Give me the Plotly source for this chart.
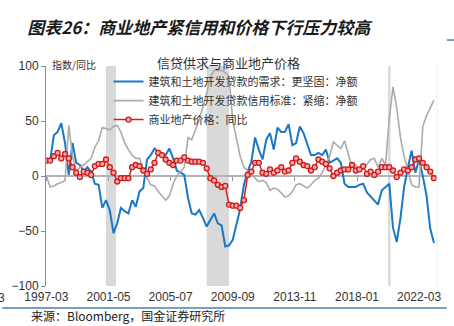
import pandas as pd
import plotly.graph_objects as go

# ---------------- data (quarterly, 1997Q1 .. 2023Q1) ----------------
start_month = "1997-03-01"

demand = [12, 14, 37, 40, 48, 30, 1, 30, 12, 10, 4, 8, 4, -7, -8, -29, -22, -31, -52, -43,
          -29, -32, -34, -22, -28, -14, -11, 15, 19, 25, 22, 20, 19, 25, 16, 5, 3, 1, -20, -34,
          -35, -31, -38, -46, -40, -34, -43, -45, -64, -63, -58, -45, -30, -8, 4, 13, 35, 24, 15, 33,
          39, 24, 44, 40, 40, 47, 28, 30, 45, 39, 29, 19, 19, 21, 19, 24, 12, 14, 16, 12,
          -7, -10, -10, -10, -8, -7, -15, -19, -22, -26, -13, -10, -7, -47, -60, -38, -10, 8, 23, 3,
          15, 0, -18, -48, -61]

standards = [0, -10, -9, -7, -6, -4, 46, 18, 4, 8, 10, 13, 16, 26, 32, 44, 43, 42, 45, 46,
             40, 30, 24, 19, 16, 16, 6, -2, -8, -9, -14, -18, -22, -18, -7, 0, 4, 8, 35, 33,
             42, 51, 63, 75, 90, 96, 96, 96, 94, 90, 50, 33, 18, 8, 5, 2, -2, -5, -4, -6,
             -13, -11, -12, -16, -19, -18, -14, -8, -7, -9, -11, -8, -4, -2, 3, 10, 18, 31, 28, 25,
             32, 19, 8, 10, 5, 6, 10, 15, 16, 8, 16, 10, 52, 81, 62, 35, 18, 5, -8, -10,
             -10, 45, 55, 62, 69]

price_yoy = [14, 14, 18, 21, 16, 20, 16, 8, 3, -1, 4, 3, 1, 9, 11, 11, 15, 8, 3, -5,
             -2, -2, -2, 8, 10, 9, 5, 2, 6, 12, 21, 19, 15, 12, 10, 14, 14, 17, 14, 13,
             13, 13, 12, 7, -2, -4, -8, -10, -9, -26, -27, -27, -29, -22, 1, 4, 12, 12, 3, 2,
             6, 3, 5, 8, 4, 5, 12, 16, 13, 10, 9, 5, 8, 15, 13, 11, 7, 0, 3, 5,
             6, 6, 10, 5, 6, 9, 2, 4, 1, 4, 8, 8, 8, 5, -1, 3, 6, 5, 8, 15,
             16, 12, 8, 4, -2]

names = ["建筑和土地开发贷款的需求：更坚固：净额",
         "建筑和土地开发贷款信用标准：紧缩：净额",
         "商业地产价格：同比"]

recessions = [("2001-03-01", "2001-11-01"), ("2007-12-01", "2009-06-01"), ("2020-02-01", "2020-04-01")]

tick_dates = ["1997-03-01", "2001-05-01", "2005-07-01", "2009-09-01",
              "2013-11-01", "2018-01-01", "2022-03-01"]
tick_text = ["1997-03", "2001-05", "2005-07", "2009-09", "2013-11", "2018-01", "2022-03"]
y_ticks = [-100, -50, 0, 50, 100]

dates = pd.date_range(start=start_month, periods=len(demand), freq="3MS")

# ---------------- figure ----------------
CJK = "Noto Sans CJK SC"
NUM = "Liberation Sans, Arial, sans-serif"
xrange_ = ["1997-02-20", "2023-05-15"]

fig = go.Figure()

for a, b in recessions:
    fig.add_vrect(x0=a, x1=b, fillcolor="#d9d9d9", opacity=1, line_width=0, layer="below")

fig.add_trace(go.Scatter(x=dates, y=demand, name=names[0], mode="lines",
                         line=dict(color="#1a78c8", width=2)))
fig.add_trace(go.Scatter(x=dates, y=standards, name=names[1], mode="lines",
                         line=dict(color="#ababab", width=1.6)))
fig.add_trace(go.Scatter(x=dates, y=price_yoy, name=names[2], mode="lines+markers",
                         line=dict(color="#d42020", width=1.5),
                         marker=dict(symbol="circle", size=5, color="#f0a8a8",
                                     line=dict(color="#d01818", width=1.3))))
# dummy trace for the tick axis on the zero line
fig.add_trace(go.Scatter(x=[], y=[], xaxis="x2", showlegend=False, hoverinfo="skip"))

fig.update_layout(
    width=454, height=326,
    margin=dict(l=44, r=17, t=66, b=40),
    paper_bgcolor="white", plot_bgcolor="white",
    showlegend=True,
    title=dict(text="图表26：商业地产紧信用和价格下行压力较高",
               font=dict(family=CJK, size=17, color="#1a1a1a", weight="bold", style="italic"),
               x=0.06, xanchor="left", xref="container",
               y=1 - 28 / 326, yanchor="middle", yref="container"),
    legend=dict(x=0.16, y=0.995, xanchor="left", yanchor="top",
                bgcolor="rgba(0,0,0,0)", font=dict(family=CJK, size=11, color="#333333"),
                tracegroupgap=0, itemwidth=30),
    xaxis=dict(type="date", range=xrange_, tickvals=tick_dates, ticktext=tick_text,
               showgrid=False, zeroline=False, showline=False, ticks="",
               ticklabelstandoff=2,
               tickfont=dict(family=NUM, size=12, color="#333333")),
    xaxis2=dict(type="date", range=xrange_, tickvals=tick_dates, overlaying="x",
                anchor="free", position=0.5, side="bottom", showticklabels=False,
                ticks="outside", ticklen=4, tickcolor="#999999", tickwidth=1,
                showgrid=False, zeroline=False, showline=False),
    yaxis=dict(range=[-100, 100], tickvals=y_ticks, showgrid=False,
               zeroline=True, zerolinecolor="#b3b3b3", zerolinewidth=2,
               showline=True, linecolor="#8c8c8c", linewidth=1,
               ticks="outside", ticklen=4, tickcolor="#8c8c8c",
               tickfont=dict(family=NUM, size=12, color="#333333")),
)

fig.add_annotation(text="信贷供求与商业地产价格", xref="paper", yref="paper",
                   x=0.466, y=1.014, xanchor="center", yanchor="middle", showarrow=False,
                   font=dict(family=CJK, size=13, color="#333333"))
fig.add_annotation(text="指数/同比", xref="paper", yref="paper",
                   x=0.01, y=1.005, xanchor="left", yanchor="middle", showarrow=False,
                   font=dict(family=CJK, size=10, color="#333333"))
fig.add_annotation(text="3", xref="paper", yref="paper",
                   x=-0.1, y=-0.055, xanchor="right", yanchor="middle", showarrow=False,
                   font=dict(family=NUM, size=12, color="#333333"))
fig.add_annotation(text="来源：Bloomberg，国金证券研究所", xref="paper", yref="paper",
                   x=-0.043, y=-0.136, xanchor="left", yanchor="middle", showarrow=False,
                   font=dict(family=CJK, size=12, color="#222222"))

# decorative rules
fig.add_shape(type="line", xref="paper", yref="paper", x0=-0.112, x1=1.025, y0=-0.1, y1=-0.1,
              line=dict(color="#4a80b0", width=1.5))
fig.add_shape(type="line", xref="paper", yref="paper", x0=1.025, x1=1.05, y0=1.118, y1=1.118,
              line=dict(color="#4a80b0", width=1.5))
fig.add_shape(type="line", xref="paper", yref="paper", x0=1, x1=1, y0=0, y1=1,
              line=dict(color="#eeeeee", width=1))

fig.write_html("out.html")
